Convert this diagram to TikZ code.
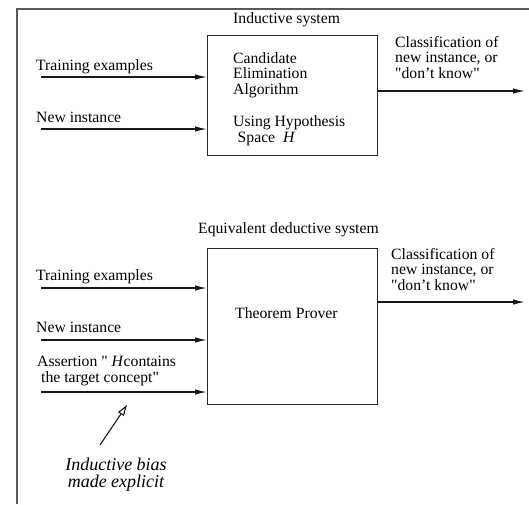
\documentclass[tikz,border=0pt]{standalone}
\usepackage{fontspec}
\setmainfont{Liberation Serif}[Ligatures=TeXOff]
\usetikzlibrary{arrows.meta}
\begin{document}
\begin{tikzpicture}[x=1pt,y=-1pt,
  lbl/.style={inner sep=0pt,anchor=base west,align=left,font=\fontsize{15.7}{15.5}\selectfont},
  clbl/.style={inner sep=0pt,anchor=base,align=center,font=\fontsize{18}{16.5}\selectfont\itshape},
  box/.style={draw=black!85,line width=1.3pt,inner sep=0pt},
  flow/.style={line width=1.3pt,black!90,-{Latex[length=12pt,width=5.5pt]}},
  pointer/.style={line width=1.1pt,black!90,-{Triangle[open,length=11pt,width=7pt]}},
]
\useasboundingbox (0,0) rectangle (529,504);
\draw[line width=2pt,black!65] (17,504) -- (17,9) -- (529,9);

% boxes
\node[box,minimum width=170pt,minimum height=120pt,anchor=north west] (ind) at (207,35) {};
\node[box,minimum width=170pt,minimum height=156pt,anchor=north west] (ded) at (207,248) {};

% titles (multi-line nodes: base = baseline of last line)
\node[lbl] (indt) at (233,23) {Inductive system};
\node[lbl] (dedt) at (198,233) {Equivalent deductive system};

% box contents
\node[lbl] (cea) at (233,94) {Candidate\\Elimination\\Algorithm};
\node[lbl] (uhs) at (233,142) {Using Hypothesis\\\hspace{4.5pt}Space\ \ \textit{H}};
\node[lbl] (tp) at (235,318) {Theorem Prover};

% inputs, top
\node[lbl] (te1t) at (36,70) {Training examples};
\node[lbl] (ni1t) at (36,122) {New instance};
\coordinate (te1) at (41,77);
\coordinate (ni1) at (41,129);
\draw[flow] (te1) -- (te1 -| ind.west);
\draw[flow] (ni1) -- (ni1 -| ind.west);

% inputs, bottom
\node[lbl] (te2t) at (36,280) {Training examples};
\node[lbl] (ni2t) at (36,332) {New instance};
\node[lbl] (ast) at (37,382) {Assertion " \textit{H}contains\\\hspace{4pt}the target concept"};
\coordinate (te2) at (41,288);
\coordinate (ni2) at (41,340);
\coordinate (as2) at (41,392);
\draw[flow] (te2) -- (te2 -| ded.west);
\draw[flow] (ni2) -- (ni2 -| ded.west);
\draw[flow] (as2) -- (as2 -| ded.west);

% outputs
\node[lbl] (o1t) at (395,78) {Classification of\\new instance, or\\"don’t know"};
\node[lbl] (o2t) at (391,290) {Classification of\\new instance, or\\"don’t know"};
\coordinate (o1) at (525,91);
\coordinate (o2) at (525,302);
\draw[flow] (ind.east |- o1) -- (o1);
\draw[flow] (ded.east |- o2) -- (o2);

% inductive bias
\node[clbl] (bias) at (116,487) {Inductive bias\\made explicit};
\coordinate (pb) at (100,445);
\coordinate (pt) at (127,405);
\draw[pointer] (pb) -- (pt);
\end{tikzpicture}
\end{document}
